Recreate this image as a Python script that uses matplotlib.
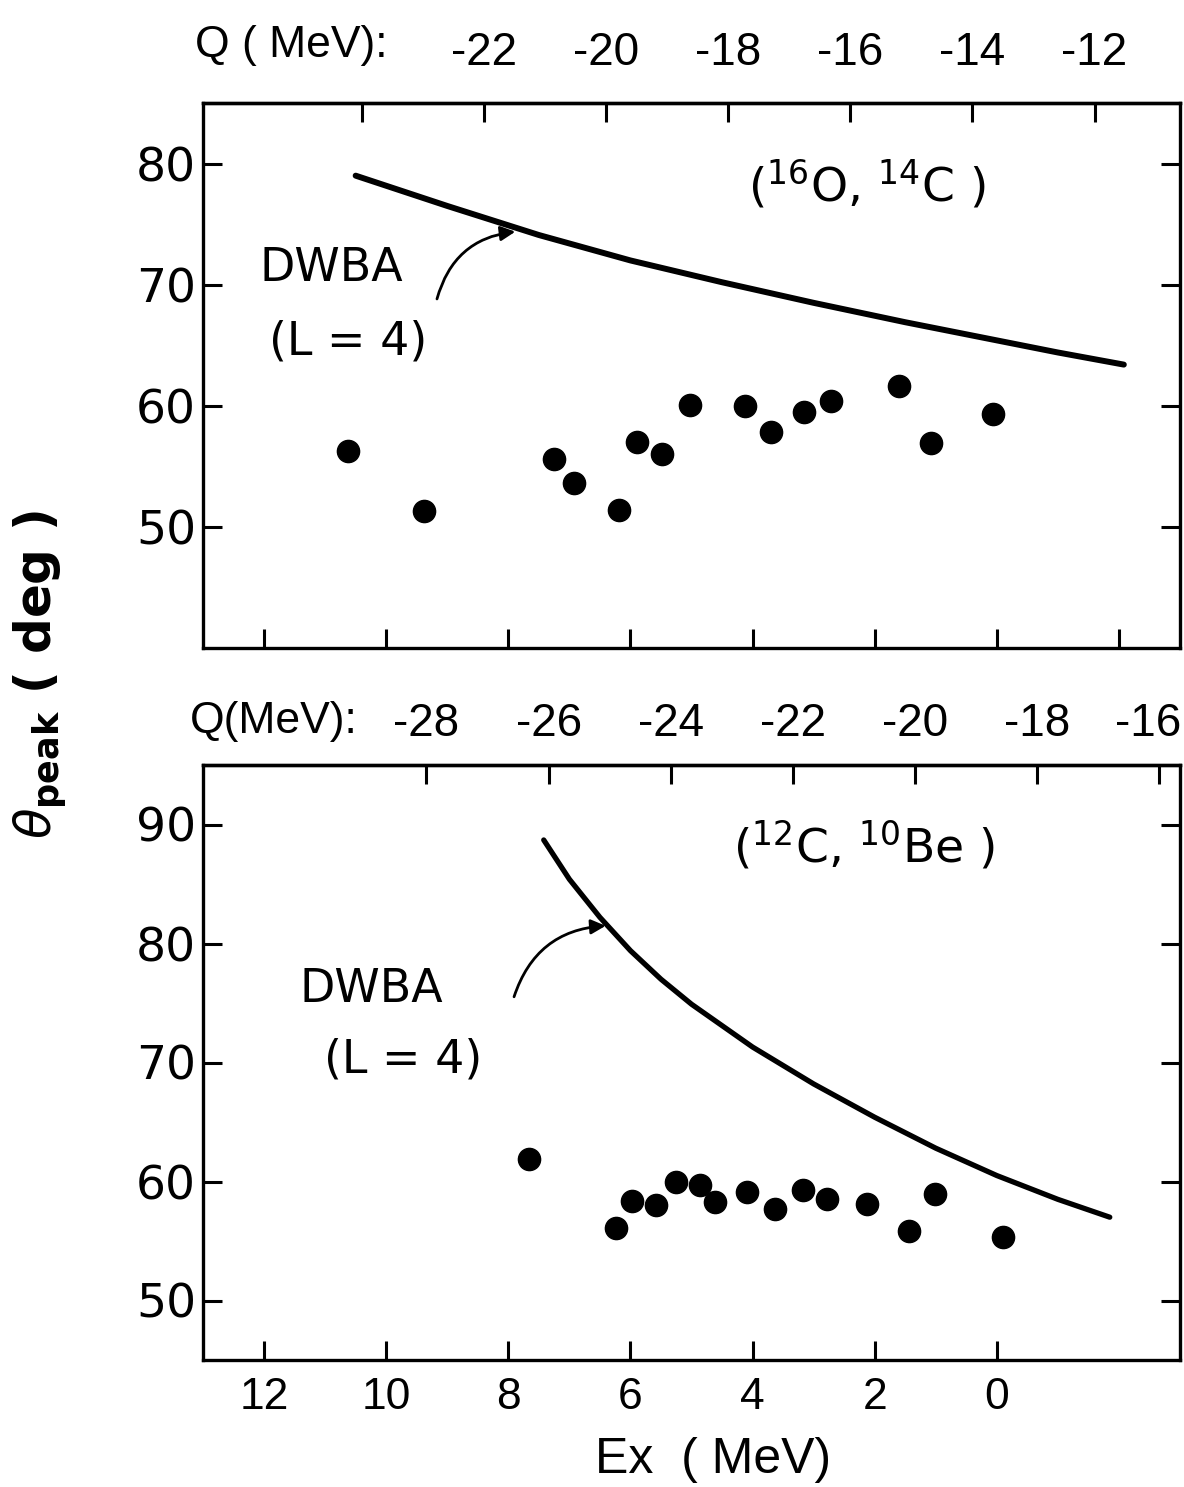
import matplotlib
matplotlib.use("Agg")
import matplotlib.pyplot as plt
from matplotlib import font_manager
from matplotlib.transforms import ScaledTranslation

# ---------------- data ----------------
# (16O,14C) panel
top_ex = [10.62, 9.38, 7.25, 6.92, 6.19, 5.90, 5.49, 5.02, 4.12, 3.69, 3.15, 2.72, 1.61, 1.08, 0.06]
top_theta = [56.3, 51.3, 55.6, 53.6, 51.4, 57.0, 56.0, 60.05, 60.0, 57.8, 59.5, 60.4, 61.6, 56.9, 59.3]
top_dwba_ex = [10.5, 9.0, 7.5, 6.0, 4.5, 3.0, 1.5, 0.0, -1.0, -2.08]
top_dwba_theta = [79.0, 76.5, 74.1, 72.0, 70.2, 68.5, 66.9, 65.4, 64.4, 63.4]

# (12C,10Be) panel
bot_ex = [7.66, 6.23, 5.97, 5.58, 5.25, 4.86, 4.61, 4.09, 3.63, 3.17, 2.78, 2.12, 1.43, 1.02, -0.10]
bot_theta = [61.9, 56.1, 58.4, 58.05, 60.0, 59.7, 58.3, 59.1, 57.7, 59.3, 58.5, 58.1, 55.85, 58.95, 55.3]
bot_dwba_ex = [7.42, 7.0, 6.5, 6.0, 5.5, 5.0, 4.0, 3.0, 2.0, 1.0, 0.0, -1.0, -1.85]
bot_dwba_theta = [88.7, 85.4, 82.2, 79.4, 77.0, 74.9, 71.3, 68.2, 65.4, 62.8, 60.5, 58.5, 57.0]

ex_ticks_top = [12, 10, 8, 6, 4, 2, 0, -2]
ex_ticks_bot = [12, 10, 8, 6, 4, 2, 0]
ex_ticklabels = ["12", "10", "8", "6", "4", "2", "0"]

Q0_top = -13.6
Q0_bot = -18.66
q_ticks_top = [-24, -22, -20, -18, -16, -14, -12]
q_ticklabels_top = ["", "-22", "-20", "-18", "-16", "-14", "-12"]
q_ticks_bot = [-28, -26, -24, -22, -20, -18, -16]
q_ticklabels_bot = ["-28", "-26", "-24", "-22", "-20", "-18", "-16"]

yticks_top = [50, 60, 70, 80]
yticks_bot = [50, 60, 70, 80, 90]

# ---------------- fonts ----------------
names = {f.name for f in font_manager.fontManager.ttflist}
if "Liberation Sans Narrow" in names:
    NARROW = "Liberation Sans Narrow"
    nscale = 1.1
else:
    NARROW = "Liberation Sans"
    nscale = 1.0
WIDE = "DejaVu Sans"
plt.rcParams["font.family"] = WIDE
plt.rcParams["mathtext.default"] = "regular"

W, H = 1184, 1487
fig = plt.figure(figsize=(W / 100, H / 100), dpi=100)

def frac_box(x0, y0, x1, y1):
    return [x0 / W, 1 - y1 / H, (x1 - x0) / W, (y1 - y0) / H]

ax1 = fig.add_axes(frac_box(203, 103, 1180, 648))
ax2 = fig.add_axes(frac_box(203, 765, 1180, 1360))

SPW = 2.4
for ax in (ax1, ax2):
    for s in ax.spines.values():
        s.set_linewidth(SPW)
    ax.set_xlim(13, -3)
    ax.tick_params(axis="both", direction="in", length=14, width=2.2,
                   top=False, right=True)

ax1.set_ylim(40, 85)
ax2.set_ylim(45, 95)
ax1.set_yticks(yticks_top)
ax2.set_yticks(yticks_bot)
ax1.set_yticklabels([str(v) for v in yticks_top], fontsize=34, family=WIDE)
ax2.set_yticklabels([str(v) for v in yticks_bot], fontsize=34, family=WIDE)
ax1.tick_params(axis="y", pad=5)
ax2.tick_params(axis="y", pad=5)

ax1.set_xticks(ex_ticks_top)
ax1.set_xticklabels([])
ax2.set_xticks(ex_ticks_bot)
ax2.set_xticklabels(ex_ticklabels, fontsize=32 * nscale, family=NARROW)
ax2.tick_params(axis="x", pad=12)

# DWBA curves and data
ax1.plot(top_dwba_ex, top_dwba_theta, color="black", lw=4.3, solid_capstyle="round")
ax1.plot(top_ex, top_theta, "o", color="black", ms=16)
ax2.plot(bot_dwba_ex, bot_dwba_theta, color="black", lw=3.8, solid_capstyle="round")
ax2.plot(bot_ex, bot_theta, "o", color="black", ms=16)

# Q axes on top
sec1 = ax1.secondary_xaxis("top", functions=(lambda e: Q0_top - e, lambda q: Q0_top - q))
sec1.set_xticks(q_ticks_top)
sec1.set_xticklabels(q_ticklabels_top, fontsize=33 * nscale, family=NARROW)
sec1.tick_params(direction="in", length=14, width=2.2, pad=20)
sec1.spines["top"].set_linewidth(SPW)

sec2 = ax2.secondary_xaxis("top", functions=(lambda e: Q0_bot - e, lambda q: Q0_bot - q))
sec2.set_xticks(q_ticks_bot)
sec2.set_xticklabels(q_ticklabels_bot, fontsize=33 * nscale, family=NARROW)
sec2.tick_params(direction="in", length=14, width=2.2, pad=14)
sec2.spines["top"].set_linewidth(SPW)
# last label sits just inside the figure edge
last = sec2.get_xticklabels()[-1]
last.set_horizontalalignment("right")
last.set_transform(last.get_transform() + ScaledTranslation(0.22, 0, fig.dpi_scale_trans))

fig.text(195 / W, 1 - 45 / H, "Q ( MeV):", fontsize=32 * nscale, family=NARROW,
         ha="left", va="center")
fig.text(190 / W, 1 - 722 / H, "Q(MeV):", fontsize=32 * nscale, family=NARROW,
         ha="left", va="center")

# annotations
ax1.text(10.9, 71.3, "DWBA", fontsize=33, ha="center", va="center")
ax1.text(10.62, 65.3, "(L = 4)", fontsize=33, ha="center", va="center")
ax1.annotate("", xy=(7.84, 74.4), xytext=(9.18, 68.6),
             arrowprops=dict(arrowstyle="-|>", lw=2, color="black",
                             connectionstyle="arc3,rad=-0.35", mutation_scale=22))
ax1.text(2.13, 78.3, r"($^{16}$O, $^{14}$C )", fontsize=34, ha="center", va="center")

ax2.text(10.25, 76.1, "DWBA", fontsize=33, ha="center", va="center")
ax2.text(9.72, 70.2, "(L = 4)", fontsize=33, ha="center", va="center")
ax2.annotate("", xy=(6.36, 81.5), xytext=(7.92, 75.3),
             arrowprops=dict(arrowstyle="-|>", lw=2, color="black",
                             connectionstyle="arc3,rad=-0.35", mutation_scale=22))
ax2.text(2.18, 88.2, r"($^{12}$C, $^{10}$Be )", fontsize=34, ha="center", va="center")

# axis titles
fig.text(713 / W, 1 - 1460 / H, "Ex  ( MeV)", fontsize=36 * nscale, family=NARROW,
         ha="center", va="center")
fig.text(40 / W, 1 - 675 / H, r"$\mathit{\theta}_{\mathbf{peak}}$ ( deg )", fontsize=36,
         fontweight="bold", rotation=90, ha="center", va="center")

fig.savefig("out.png", dpi=100)
